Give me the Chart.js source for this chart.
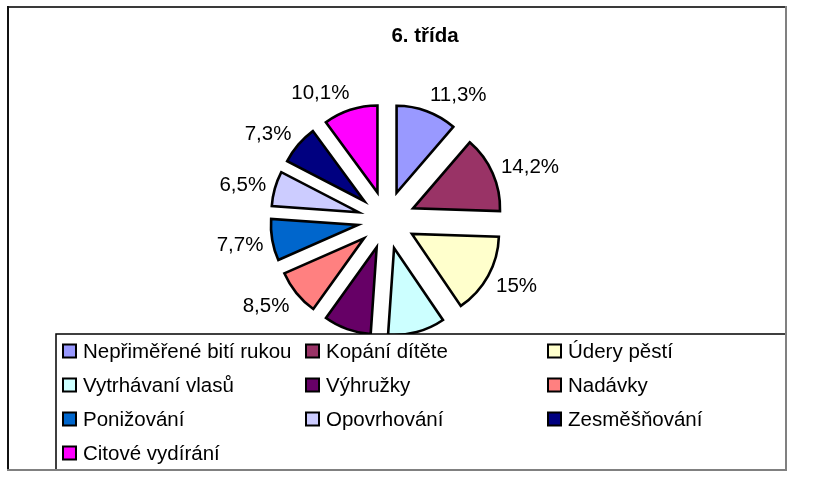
<!DOCTYPE html>
<html><head><meta charset="utf-8">
<script src="https://cdn.jsdelivr.net/npm/chart.js@4.4.1/dist/chart.umd.min.js"></script>
<style>html,body{margin:0;padding:0;background:#fff;} #wrap{position:relative;width:829px;height:493px;}</style>
</head><body><div id="wrap"><canvas id="c" width="829" height="493"></canvas></div>
<script>
const chartTitle = '6. třída';
const categories = ['Nepřiměřené bití rukou','Kopání dítěte','Údery pěstí','Vytrhávaní vlasů','Výhružky','Nadávky','Ponižování','Opovrhování','Zesměšňování','Citové vydírání'];
const values = [11.3, 14.2, 15, 10.6, 8.8, 8.5, 7.7, 6.5, 7.3, 10.1];
const colors = ['#9999FF','#993366','#FFFFCC','#CCFFFF','#660066','#FF8080','#0066CC','#CCCCFF','#000080','#FF00FF'];

const FONT = '"Liberation Sans", Arial, sans-serif';
const EXPLODE = 29;
const LABEL_GAP = 9;

function fmt(v){ return String(v).replace('.', ',') + '%'; }

const explodePlugin = {
  id: 'explode',
  beforeDatasetsDraw(chart){
    const a = chart.chartArea;
    const cx = (a.left + a.right) / 2, cy = (a.top + a.bottom) / 2;
    chart.getDatasetMeta(0).data.forEach(arc => {
      const mid = (arc.startAngle + arc.endAngle) / 2;
      arc.x = cx + Math.cos(mid) * EXPLODE;
      arc.y = cy + Math.sin(mid) * EXPLODE;
    });
  },
  afterDatasetsDraw(chart){
    const ctx = chart.ctx;
    const a = chart.chartArea;
    const cx = (a.left + a.right) / 2, cy = (a.top + a.bottom) / 2;
    ctx.save();
    const fs = 20.5;
    ctx.font = fs + 'px ' + FONT;
    ctx.fillStyle = '#000';
    ctx.textAlign = 'center';
    ctx.textBaseline = 'alphabetic';
    const capH = 0.716 * fs;
    chart.getDatasetMeta(0).data.forEach((arc, i) => {
      const mid = (arc.startAngle + arc.endAngle) / 2;
      const dx = Math.cos(mid), dy = Math.sin(mid);
      const D = arc.outerRadius + EXPLODE + LABEL_GAP;
      const txt = fmt(values[i]);
      const w = ctx.measureText(txt).width;
      const tx = cx + dx * D + Math.sign(dx) * Math.min(1, 3 * Math.abs(dx)) * w / 2;
      const ty = cy + dy * D + dy * 10;
      ctx.fillText(txt, tx, ty + capH / 2);
    });
    ctx.restore();
  },
  afterDraw(chart){
    const ctx = chart.ctx;
    ctx.save();
    // title
    ctx.font = 'bold 20.5px ' + FONT;
    ctx.fillStyle = '#000';
    ctx.textAlign = 'center';
    ctx.textBaseline = 'alphabetic';
    ctx.fillText(chartTitle, 425, 42);
    // legend box
    const L = 56, T = 334, R = 786, B = 470;
    ctx.fillStyle = '#fff';
    ctx.fillRect(L, T, R - L, B - T);
    ctx.strokeStyle = '#000';
    ctx.lineWidth = 1.5;
    ctx.strokeRect(L, T, R - L, B - T);
    const colX = [63, 306, 548];
    ctx.font = '20.5px ' + FONT;
    ctx.textAlign = 'left';
    categories.forEach((name, i) => {
      const col = i % 3, row = Math.floor(i / 3);
      const x = colX[col], yc = 351 + row * 34;
      ctx.fillStyle = colors[i];
      ctx.fillRect(x, yc - 6.5, 13, 13);
      ctx.strokeStyle = '#000';
      ctx.lineWidth = 2;
      ctx.strokeRect(x, yc - 6.5, 13, 13);
      ctx.fillStyle = '#000';
      ctx.fillText(name, x + 20, yc + 7.3);
    });
    // outer border
    ctx.lineWidth = 2;
    ctx.strokeStyle = '#3a3a3a';
    ctx.beginPath(); ctx.moveTo(7, 7); ctx.lineTo(787, 7); ctx.stroke();
    ctx.strokeStyle = '#111';
    ctx.beginPath(); ctx.moveTo(8, 6); ctx.lineTo(8, 471); ctx.stroke();
    ctx.strokeStyle = '#808080';
    ctx.beginPath(); ctx.moveTo(786, 6); ctx.lineTo(786, 471); ctx.stroke();
    ctx.beginPath(); ctx.moveTo(7, 470); ctx.lineTo(787, 470); ctx.stroke();
    ctx.restore();
  }
};

new Chart(document.getElementById('c'), {
  type: 'pie',
  data: {
    labels: categories,
    datasets: [{
      data: values,
      backgroundColor: colors,
      borderColor: '#000',
      borderWidth: 2.6,
      borderJoinStyle: 'miter'
    }]
  },
  options: {
    responsive: false,
    devicePixelRatio: 1,
    animation: false,
    events: [],
    radius: 87,
    layout: { padding: { left: 270, right: 326, top: 100, bottom: 153 } },
    plugins: { legend: { display: false }, title: { display: false }, tooltip: { enabled: false } }
  },
  plugins: [explodePlugin]
});
</script>
</body></html>
